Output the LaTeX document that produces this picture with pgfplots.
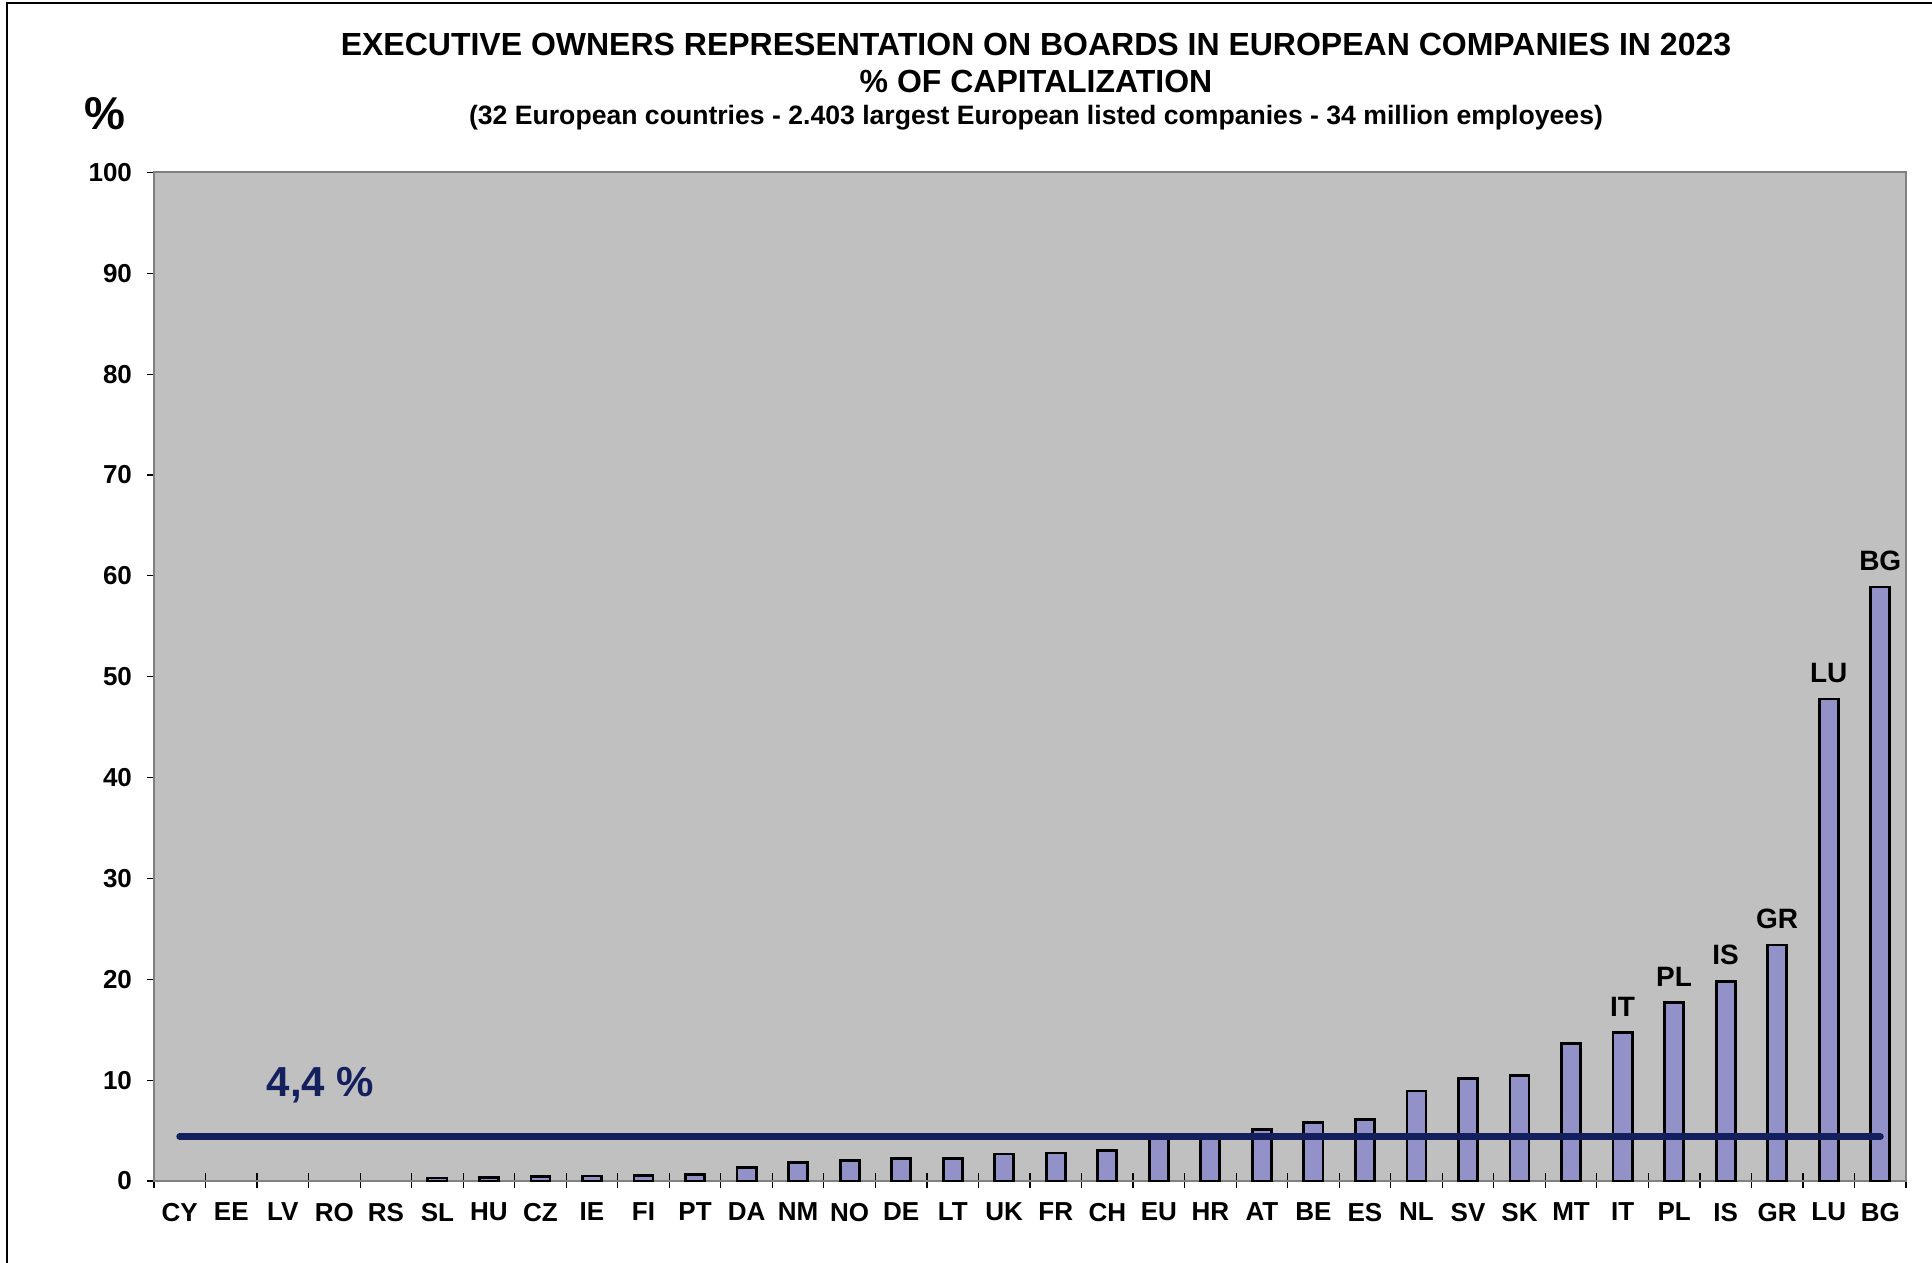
\documentclass[border=0pt]{standalone}
\usepackage{fontspec}
\setmainfont{Liberation Sans}
\usepackage{pgfplots}
\pgfplotsset{compat=1.18}
\definecolor{plotbg}{RGB}{192,192,192}
\definecolor{barfill}{RGB}{146,146,200}
\definecolor{navy}{RGB}{20,32,94}
\definecolor{frame}{RGB}{128,128,128}
\begin{document}
\begin{tikzpicture}[x=1pt,y=1pt]
\path[use as bounding box] (0,0) rectangle (966,631.5);
\draw[black, line width=1pt] (3.5,0) -- (3.5,630) -- (966,630);
\node[font=\fontsize{16}{17}\selectfont\bfseries] at (518,609) {EXECUTIVE OWNERS REPRESENTATION ON BOARDS IN EUROPEAN COMPANIES IN 2023};
\node[font=\fontsize{16}{17}\selectfont\bfseries] at (518,590.5) {\% OF CAPITALIZATION};
\node[font=\fontsize{13.3}{14}\selectfont\bfseries] at (518,572.8) {(32 European countries - 2.403 largest European listed companies - 34 million employees)};
\node[font=\fontsize{23}{23}\selectfont\bfseries] at (52.4,574.5) {\%};
\begin{axis}[
  at={(77pt,41pt)}, anchor=south west,
  width=876pt, height=504.25pt, scale only axis,
  xmin=-0.5, xmax=33.5, ymin=0, ymax=100,
  axis background/.style={fill=plotbg},
  axis line style={draw=frame, line width=1pt},
  xtick={0,...,33},
  xticklabels={CY,EE,LV,RO,RS,SL,HU,CZ,IE,FI,PT,DA,NM,NO,DE,LT,UK,FR,CH,EU,HR,AT,BE,ES,NL,SV,SK,MT,IT,PL,IS,GR,LU,BG},
  major x tick style={draw=none},
  minor xtick={-0.5,0.5,...,33.5},
  minor x tick style={black, line width=0.6pt},
  xtick align=center, minor tick length=7.5pt,
  ytick={0,10,...,100}, ytick align=outside, major tick length=3.5pt,
  y tick style={black, line width=0.6pt},
  xtick pos=bottom, ytick pos=left,
  tick label style={font=\fontsize{13}{13}\selectfont\bfseries},
  /pgf/number format/assume math mode=true,
  xticklabel style={yshift=-5.7pt},
  yticklabel style={xshift=-4pt},
  clip=false,
]
\addplot[ybar, bar width=0.37, fill=barfill, draw=black, line width=1.4pt] coordinates {
 (5,0.3) (6,0.34) (7,0.48) (8,0.5) (9,0.52) (10,0.62) (11,1.3) (12,1.87)
 (13,2.03) (14,2.2) (15,2.23) (16,2.67) (17,2.77) (18,3.0) (19,4.4) (20,4.5)
 (21,5.07) (22,5.83) (23,6.07) (24,8.93) (25,10.2) (26,10.45) (27,13.66) (28,14.7)
 (29,17.7) (30,19.8) (31,23.4) (32,47.8) (33,58.9)
};
\addplot[navy, line width=3.5pt, line cap=round] coordinates {(0,4.4) (33,4.4)};
\begin{scope}[every node/.style={above, yshift=4.5pt, font=\fontsize{14}{14}\selectfont\bfseries}]
\node at (axis cs:28,14.7) {IT};
\node at (axis cs:29,17.7) {PL};
\node at (axis cs:30,19.8) {IS};
\node at (axis cs:31,23.4) {GR};
\node at (axis cs:32,47.8) {LU};
\node at (axis cs:33,58.9) {BG};
\end{scope}
\node[navy, font=\fontsize{21}{21}\selectfont\bfseries] at (axis cs:2.73,9.5) {4,4 \%};
\end{axis}
\end{tikzpicture}
\end{document}
